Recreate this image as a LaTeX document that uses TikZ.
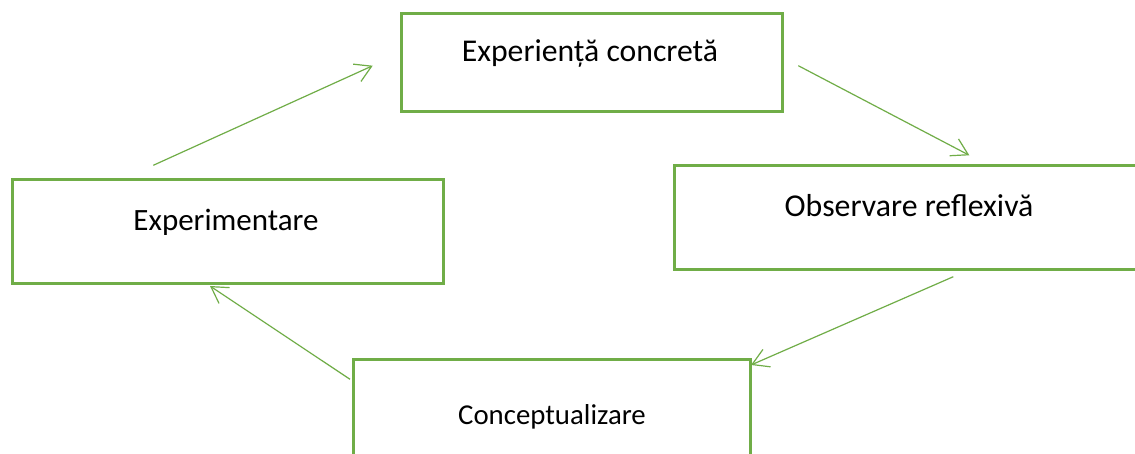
\documentclass[tikz,border=0pt]{standalone}
\usepackage{fontspec}
\setmainfont{Carlito}
\usetikzlibrary{arrows.meta}
\definecolor{boxgreen}{HTML}{70AD47}
\tikzset{
  box/.style={draw=boxgreen, line width=3pt, rectangle, inner sep=0pt},
  lbl/.style={anchor=base, inner sep=0pt, text=black},
  conn/.style={draw=boxgreen, line width=1.2pt, -{Straight Barb[length=16pt,width=19pt,line width=1.2pt]}}
}
\begin{document}
\begin{tikzpicture}[x=1pt,y=-1pt]
\clip (0,0) rectangle (1135,454);
\fill[white] (0,0) rectangle (1135,454);
% boxes
\node[box, minimum width=381pt, minimum height=98pt] (top) at (591.5,63) {};
\node[box, minimum width=431pt, minimum height=104pt] (left) at (227.5,231.5) {};
\node[box, minimum width=526pt, minimum height=103.5pt] (right) at (937,217.75) {};
\node[box, minimum width=396.5pt, minimum height=101pt] (bottom) at (551.75,409.5) {};
% labels
\node[lbl, font=\fontsize{31.7}{36}\selectfont] (ttop) at (590,62) {Experiență concretă};
\node[lbl, font=\fontsize{31}{36}\selectfont] (tleft) at (226,231) {Experimentare};
\node[lbl, font=\fontsize{31.8}{36}\selectfont] (tright) at (909,217) {Observare reflexivă};
\node[lbl, font=\fontsize{28.8}{34}\selectfont] (tbottom) at (552,424) {Conceptualizare};
% connector ends
\coordinate (a1) at (153.3,165.3);
\coordinate (a2) at (372.7,65.7);
\coordinate (b1) at (798.3,65.7);
\coordinate (b2) at (969.3,155.3);
\coordinate (c1) at (953.3,276.7);
\coordinate (c2) at (751,365);
\coordinate (d1) at (350,379.3);
\coordinate (d2) at (210,286);
\draw[conn] (a1) -- (a2);
\draw[conn] (b1) -- (b2);
\draw[conn] (c1) -- (c2);
\draw[conn] (d1) -- (d2);
\end{tikzpicture}
\end{document}
